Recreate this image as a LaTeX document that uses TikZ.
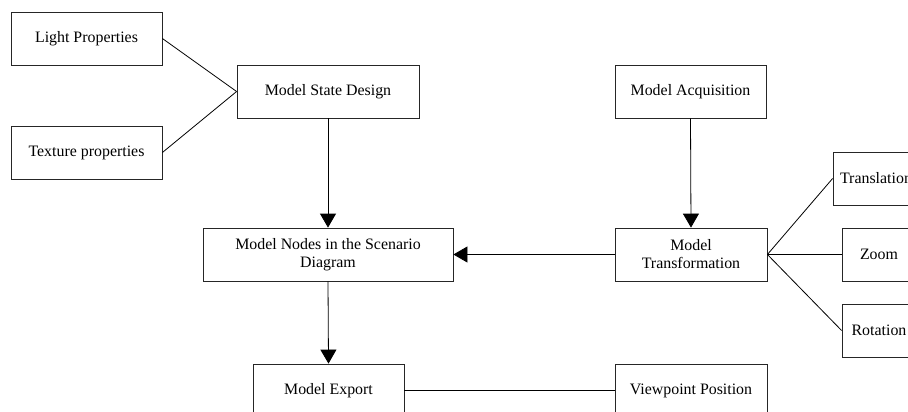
\documentclass[tikz,border=0pt]{standalone}
\usepackage{fontspec}
\setmainfont{Liberation Serif}
\usetikzlibrary{arrows.meta}
\begin{document}
\begin{tikzpicture}[x=1pt,y=-1pt,
  box/.style={draw=black!85,line width=0.8pt,inner sep=0pt,align=center,
    font=\fontsize{15.9}{18}\selectfont},
  link/.style={draw=black,line width=0.8pt},
  arr/.style={link,-{Triangle[length=14pt,width=16pt]}}]
\useasboundingbox (0,0) rectangle (908,412);
\clip (0,0) rectangle (908,412);
\fill[white] (0,0) rectangle (908,412);
\node[box,minimum width=151pt,minimum height=53pt] (light) at (86.5,38.5) {Light Properties};
\node[box,minimum width=151pt,minimum height=53pt] (tex) at (86.5,152.5) {Texture properties};
\node[box,minimum width=182pt,minimum height=53pt] (msd) at (328,91.5) {Model State Design};
\node[box,minimum width=151pt,minimum height=53pt] (acq) at (690.5,91.5) {Model Acquisition};
\node[box,minimum width=250pt,minimum height=53pt] (nodes) at (328,254.5) {Model Nodes in the Scenario\\Diagram};
\node[box,minimum width=152pt,minimum height=53pt] (trans) at (691,254.5) {Model\\Transformation};
\node[box,minimum width=151pt,minimum height=53pt] (export) at (328.5,390.5) {Model Export};
\node[box,minimum width=152pt,minimum height=53pt] (view) at (691,390.5) {Viewpoint Position};
\node[box,minimum width=86pt,minimum height=53pt] (tl) at (876,178.5) {Translation};
\node[box,minimum width=74pt,minimum height=53pt] (zoom) at (879,254.5) {Zoom};
\node[box,minimum width=74pt,minimum height=53pt] (rot) at (879,330.5) {Rotation};
\draw[link] (light.east) -- (msd.west);
\draw[link] (tex.east) -- (msd.west);
\draw[arr] (msd.south) -- (nodes.north);
\draw[arr] (acq.south) -- (trans.north);
\draw[arr] (trans.west) -- (nodes.east);
\draw[arr] (nodes.south) -- (export.north);
\draw[link] (export.east) -- (view.west);
\draw[link] (trans.east) -- (tl.west);
\draw[link] (trans.east) -- (zoom.west);
\draw[link] (trans.east) -- (rot.west);
\end{tikzpicture}
\end{document}
